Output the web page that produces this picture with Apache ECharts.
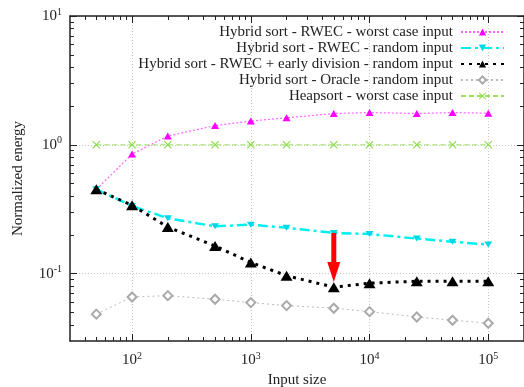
<!DOCTYPE html>
<html><head><meta charset="utf-8">
<script src="https://cdn.jsdelivr.net/npm/echarts@6/dist/echarts.min.js"></script>
<style>html,body{margin:0;padding:0;background:#fff}#c{width:524px;height:387px}</style>
</head><body><div id="c"></div>
<script>
// ---- data ----
const inputSizes = [50, 100, 200, 500, 1000, 2000, 5000, 10000, 25000, 50000, 100000];
const rwecWorst   = [0.451, 0.847, 1.17, 1.41, 1.53, 1.62, 1.75, 1.78, 1.75, 1.78, 1.76];
const rwecRandom  = [0.451, 0.335, 0.269, 0.233, 0.240, 0.227, 0.207, 0.203, 0.187, 0.177, 0.168];
const rwecEarly   = [0.451, 0.339, 0.230, 0.164, 0.122, 0.0964, 0.0785, 0.0843, 0.0873, 0.0873, 0.0873];
const oracleRand  = [0.0485, 0.0659, 0.0675, 0.0633, 0.0596, 0.0565, 0.0539, 0.0507, 0.0461, 0.0435, 0.0412];
const heapWorst   = [1, 1, 1, 1, 1, 1, 1, 1, 1, 1, 1];
const seriesNames = [
  'Hybrid sort - RWEC - worst case input',
  'Hybrid sort - RWEC - random input',
  'Hybrid sort - RWEC + early division - random input',
  'Hybrid sort - Oracle - random input',
  'Heapsort - worst case input'
];
const arrowX = 5000, arrowFrom = 0.207, arrowTo = 0.086;
const xMajorTicks = [100, 1000, 10000, 100000];
const xMinorTicks = [40,50,60,70,80,90, 200,300,400,500,600,700,800,900, 2000,3000,4000,5000,6000,7000,8000,9000,
  20000,30000,40000,50000,60000,70000,80000,90000];
const yMajorTicks = [0.1, 1, 10];
const yMinorTicks = [0.04,0.05,0.06,0.07,0.08,0.09, 0.2,0.3,0.4,0.5,0.6,0.7,0.8,0.9, 2,3,4,5,6,7,8,9];
const xMin = 30, xMax = 200000, yMin = 0.03, yMax = 10;

// ---- chart ----
const FONT = 'Liberation Serif';
const pairs = vals => inputSizes.map((x, i) => [x, vals[i]]);
function supLabel(v) {
  const e = Math.log10(v), r = Math.round(e);
  if (Math.abs(e - r) > 1e-6) return '';
  return '{b|10}{s|' + r + '}';
}
const rich = {
  b: {fontFamily: FONT, fontSize: 15, color: '#222', lineHeight: 18},
  s: {fontFamily: FONT, fontSize: 10, color: '#222', lineHeight: 10, verticalAlign: 'top'}
};
const axisLineStyle = {show: true, lineStyle: {color: '#222', width: 1.5}};
function mkX(pos, major, main) {
  return {
    type: 'log', logBase: 10, min: xMin, max: xMax, position: pos, gridIndex: 0,
    axisLine: main ? axisLineStyle : {show: false},
    axisTick: {show: true, inside: true, length: major ? 7 : 4, customValues: major ? xMajorTicks : xMinorTicks,
               lineStyle: {color: '#222', width: 1}},
    axisLabel: (pos === 'bottom' && major) ? {show: true, customValues: xMajorTicks, formatter: supLabel, rich: rich, margin: 10} : {show: false},
    splitLine: (pos === 'bottom' && major) ? {show: true, lineStyle: {color: '#c8c8c8', type: [1, 2], width: 1}} : {show: false},
    name: (pos === 'bottom' && major) ? 'Input size' : '',
    nameLocation: 'middle', nameGap: 32,
    nameTextStyle: {fontFamily: FONT, fontSize: 15, color: '#222'}
  };
}
function mkY(pos, major, main) {
  return {
    type: 'log', logBase: 10, min: yMin, max: yMax, position: pos, gridIndex: 0,
    axisLine: main ? axisLineStyle : {show: false},
    axisTick: {show: true, inside: true, length: major ? 7 : 4, customValues: major ? yMajorTicks : yMinorTicks,
               lineStyle: {color: '#222', width: 1}},
    axisLabel: (pos === 'left' && major) ? {show: true, customValues: yMajorTicks, formatter: supLabel, rich: rich, margin: 8} : {show: false},
    splitLine: (pos === 'left' && major) ? {show: true, lineStyle: {color: '#c8c8c8', type: [1, 2], width: 1}} : {show: false},
    name: (pos === 'left' && major) ? 'Normalized energy' : '',
    nameLocation: 'middle', nameGap: 44, nameRotate: 90,
    nameTextStyle: {fontFamily: FONT, fontSize: 15, color: '#222'}
  };
}
const xPath = 'path://M0,1L1,0L5,4L9,0L10,1L6,5L10,9L9,10L5,6L1,10L0,9L4,5Z';

const option = {
  animation: false,
  backgroundColor: '#fff',
  grid: {left: 70, right: 0, top: 16, bottom: 46, containLabel: false, outerBoundsMode: 'none'},
  xAxis: [mkX('bottom', true, true), mkX('bottom', false, false), mkX('top', true, true), mkX('top', false, false)],
  yAxis: [mkY('left', true, true), mkY('left', false, false), mkY('right', true, true), mkY('right', false, false)],
  legend: {
    data: seriesNames, orient: 'vertical', right: 14, top: 19, align: 'right', padding: 5,
    itemWidth: 43, itemHeight: 9, itemGap: 0,
    textStyle: {fontFamily: FONT, fontSize: 15, color: '#222', lineHeight: 16, padding: [0, 3, 0, 0]}
  },
  series: [
    {name: seriesNames[0], type: 'line', data: pairs(rwecWorst), symbol: 'triangle', symbolSize: [8, 7],
     itemStyle: {color: '#ff00ff'}, lineStyle: {color: '#ff66ff', width: 1.2, type: [2, 2]}, z: 3},
    {name: seriesNames[1], type: 'line', data: pairs(rwecRandom), symbol: 'triangle', symbolRotate: 180, symbolSize: [8, 6],
     itemStyle: {color: '#00d8e8'}, lineStyle: {color: '#00f0f0', width: 2.5, type: [10, 4, 3, 4]}, z: 3},
    {name: seriesNames[2], type: 'line', data: pairs(rwecEarly), symbol: 'triangle', symbolSize: [12, 10],
     itemStyle: {color: '#000'}, lineStyle: {color: '#000', width: 3, type: [3, 5]}, z: 5},
    {name: seriesNames[3], type: 'line', data: pairs(oracleRand), symbol: 'emptyDiamond', symbolSize: 9,
     itemStyle: {color: '#aaaaaa', borderWidth: 1}, lineStyle: {color: '#bbbbbb', width: 1, type: [2, 3]}, z: 3},
    {name: seriesNames[4], type: 'line', data: pairs(heapWorst), symbol: xPath, symbolSize: 8,
     itemStyle: {color: '#88dd44'}, lineStyle: {color: '#99e060', width: 1, type: [5, 3]}, z: 2},
    {name: 'arrow', type: 'custom', xAxisIndex: 0, yAxisIndex: 0, z: 8,
     data: [[arrowX, arrowFrom, arrowTo]], encode: {x: 0, y: [1, 2]},
     renderItem: function (params, api) {
       const p0 = api.coord([api.value(0), api.value(1)]);
       const p1 = api.coord([api.value(0), api.value(2)]);
       const headH = 20, headW = 13, shaftW = 5;
       return {type: 'group', children: [
         {type: 'rect', shape: {x: p0[0] - shaftW / 2, y: p0[1], width: shaftW, height: p1[1] - headH - p0[1] + 1}, style: {fill: '#ff0000'}},
         {type: 'polygon', shape: {points: [[p1[0] - headW / 2, p1[1] - headH], [p1[0] + headW / 2, p1[1] - headH], [p1[0], p1[1]]]}, style: {fill: '#ff0000'}}
       ]};
     }}
  ]
};
const chart = echarts.init(document.getElementById('c'), null, {renderer: 'canvas'});
chart.setOption(option);
</script>
</body></html>
